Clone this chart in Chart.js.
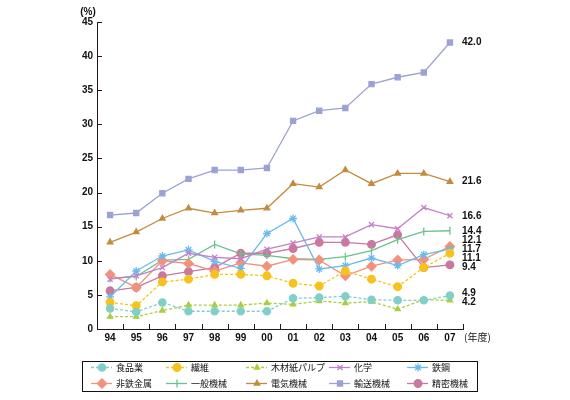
<!DOCTYPE html>
<html>
<head>
<meta charset="utf-8">
<script src="https://cdn.jsdelivr.net/npm/chart.js@4.4.0/dist/chart.umd.min.js"></script>
<style>
  html, body { margin: 0; padding: 0; background: #fff; }
  canvas { display: block; }
</style>
</head>
<body>
<canvas id="chart" width="570" height="400"></canvas>
<script>
// 年度
const years = ['94', '95', '96', '97', '98', '99', '00', '01', '02', '03', '04', '05', '06', '07'];
const yTicks = [0, 5, 10, 15, 20, 25, 30, 35, 40, 45];

// 業種別の値 (%)
const shokuhin = [3.0, 2.5, 3.9, 2.6, 2.6, 2.6, 2.6, 4.5, 4.6, 4.8, 4.3, 4.2, 4.2, 4.9];
const seni     = [3.9, 3.4, 6.9, 7.3, 8.0, 8.0, 7.8, 6.7, 6.3, 8.5, 7.3, 6.2, 9.0, 11.1];
const mokuzai  = [1.8, 1.8, 2.7, 3.5, 3.5, 3.5, 3.8, 3.6, 4.1, 3.8, 4.0, 2.9, 4.3, 4.2];
const kagaku   = [7.3, 7.8, 9.0, 11.1, 10.5, 10.3, 11.7, 12.6, 13.5, 13.5, 15.3, 14.7, 17.8, 16.6];
const tekko    = [4.7, 8.5, 10.7, 11.6, 9.9, 8.9, 14.0, 16.2, 8.8, 9.3, 10.4, 9.3, 10.9, 11.7];
const hitetsu  = [8.0, 6.1, 10.0, 9.6, 8.5, 9.7, 9.2, 10.2, 10.1, 7.8, 9.2, 10.1, 10.2, 12.1];
const ippan    = [7.4, 7.7, 10.1, 10.2, 12.4, 11.0, 10.8, 10.3, 10.2, 10.6, 11.5, 13.1, 14.3, 14.4];
const denki    = [12.7, 14.2, 16.2, 17.7, 17.0, 17.4, 17.7, 21.3, 20.8, 23.3, 21.3, 22.8, 22.8, 21.6];
const yuso     = [16.7, 17.0, 19.9, 22.0, 23.3, 23.3, 23.6, 30.5, 32.0, 32.4, 35.9, 36.9, 37.6, 42.0];
const seimitsu = [5.6, 6.1, 7.8, 8.4, 9.0, 11.1, 11.1, 11.8, 12.7, 12.7, 12.4, 13.8, 9.0, 9.4];

const labels = ['食品業', '繊維', '木材紙パルプ', '化学', '鉄鋼', '非鉄金属', '一般機械', '電気機械', '輸送機械', '精密機械'];

const FONT = 'Arial, "Liberation Sans", "Noto Sans CJK JP", sans-serif';
const JP_FONT = '"Noto Sans CJK JP", Arial, sans-serif';

const makeSet = (label, data, color, style, radius, dashed) => ({
    label: label,
    data: data,
    borderColor: color,
    backgroundColor: color,
    pointBackgroundColor: color,
    pointBorderColor: color,
    pointStyle: style,
    pointRadius: radius,
    pointBorderWidth: 1.3,
    borderWidth: 1.3,
    borderDash: dashed ? [3, 2] : [],
    tension: 0
});

const datasets = [
    makeSet(labels[0], shokuhin, '#80cfc9', 'circle', 3.6, true),
    makeSet(labels[1], seni, '#f8c21c', 'circle', 3.8, true),
    makeSet(labels[2], mokuzai, '#a8cf3e', 'triangle', 3, true),
    makeSet(labels[3], kagaku, '#c57fc8', 'crossRot', 3.6, false),
    makeSet(labels[4], tekko, '#6cb9ee', 'star', 4, false),
    makeSet(labels[5], hitetsu, '#f2927c', 'rectRot', 4.6, false),
    makeSet(labels[6], ippan, '#6cc08c', 'line', 4, false),
    makeSet(labels[7], denki, '#c48b3f', 'triangle', 3.2, false),
    makeSet(labels[8], yuso, '#9ca2d3', 'rect', 3.6, false),
    makeSet(labels[9], seimitsu, '#c9789f', 'circle', 3.8, false)
];
// 一般機械 の印は縦棒
datasets[6].pointRotation = 90;

// 内向きの目盛り、単位、右端の数値、凡例
const decorPlugin = {
    id: 'decor',
    afterDraw(chart) {
        const ctx = chart.ctx;
        const area = chart.chartArea;
        const xs = chart.scales.x;
        const ys = chart.scales.y;
        ctx.save();

        ctx.strokeStyle = '#231815';
        ctx.lineWidth = 1;
        ctx.beginPath();
        yTicks.forEach(v => {
            const y = Math.round(ys.getPixelForValue(v)) + 0.5;
            ctx.moveTo(area.left, y);
            ctx.lineTo(area.left + 5, y);
        });
        for (let i = 0; i <= years.length; i++) {
            const x = Math.round(xs.getPixelForValue(i - 0.5)) + 0.5;
            ctx.moveTo(x, area.bottom);
            ctx.lineTo(x, area.bottom - 5);
        }
        ctx.stroke();

        ctx.fillStyle = '#111';
        ctx.font = 'bold 10px ' + FONT;
        ctx.textAlign = 'center';
        ctx.textBaseline = 'middle';
        ctx.fillText('(%)', area.left - 9, area.top - 10);
        ctx.textAlign = 'left';
        ctx.font = '10px ' + JP_FONT;
        ctx.fillText('(年度)', area.right + 1, area.bottom + 8);

        // 右端のラベルを重ならないように並べる
        const ends = chart.data.datasets.map((ds, i) => {
            const meta = chart.getDatasetMeta(i);
            const pt = meta.data[meta.data.length - 1];
            return { text: ds.data[ds.data.length - 1].toFixed(1), y: pt.y };
        }).sort((a, b) => a.y - b.y);
        const gap = 9;
        for (let k = 0; k < 60; k++) {
            for (let i = 0; i < ends.length - 1; i++) {
                const d = ends[i + 1].y - ends[i].y;
                if (d < gap) {
                    ends[i].y -= (gap - d) / 2;
                    ends[i + 1].y += (gap - d) / 2;
                }
            }
        }
        ctx.font = 'bold 10px ' + FONT;
        ends.forEach(e => ctx.fillText(e.text, area.right - 1, e.y));

        // 凡例
        const box = { left: 82, top: 361, width: 395, height: 30 };
        ctx.strokeStyle = '#111';
        ctx.strokeRect(box.left + 0.5, box.top + 0.5, box.width, box.height);
        const marks = [102, 177, 257, 340, 418];
        const rows = [367.5, 383.5];
        chart.data.datasets.forEach((ds, i) => {
            const mx = marks[i % 5];
            const my = rows[Math.floor(i / 5)];
            ctx.strokeStyle = ds.borderColor;
            ctx.fillStyle = ds.borderColor;
            ctx.lineWidth = 1.3;
            ctx.setLineDash(ds.borderDash);
            ctx.beginPath();
            ctx.moveTo(mx - 11, my);
            ctx.lineTo(mx + 10, my);
            ctx.stroke();
            ctx.setLineDash([]);
            Chart.helpers.drawPoint(ctx, {
                pointStyle: ds.pointStyle,
                radius: ds.pointRadius,
                rotation: ds.pointRotation || 0,
                borderWidth: 1.3
            }, mx, my);
            ctx.fillStyle = '#111';
            ctx.font = '9px ' + JP_FONT;
            ctx.textAlign = 'left';
            ctx.fillText(ds.label, mx + 14, my);
        });
        ctx.restore();
    }
};

new Chart(document.getElementById('chart').getContext('2d'), {
    type: 'line',
    data: { labels: years, datasets: datasets },
    options: {
        responsive: false,
        animation: false,
        layout: { padding: { top: 22, right: 107, left: 0, bottom: 0 } },
        plugins: {
            legend: { display: false },
            tooltip: { enabled: false }
        },
        scales: {
            x: {
                offset: true,
                grid: { display: false, drawTicks: false },
                border: { display: true, color: '#231815', width: 1 },
                ticks: { color: '#111', padding: 3, font: { family: FONT, size: 10, weight: 'bold' }, maxRotation: 0 },
                afterFit: s => { s.height = 71; }
            },
            y: {
                min: 0,
                max: 45,
                grid: { display: false, drawTicks: false },
                border: { display: true, color: '#231815', width: 1 },
                ticks: { stepSize: 5, color: '#111', padding: 4, font: { family: FONT, size: 10, weight: 'bold' } },
                afterFit: s => { s.width = 97; }
            }
        }
    },
    plugins: [decorPlugin]
});
</script>
</body>
</html>
